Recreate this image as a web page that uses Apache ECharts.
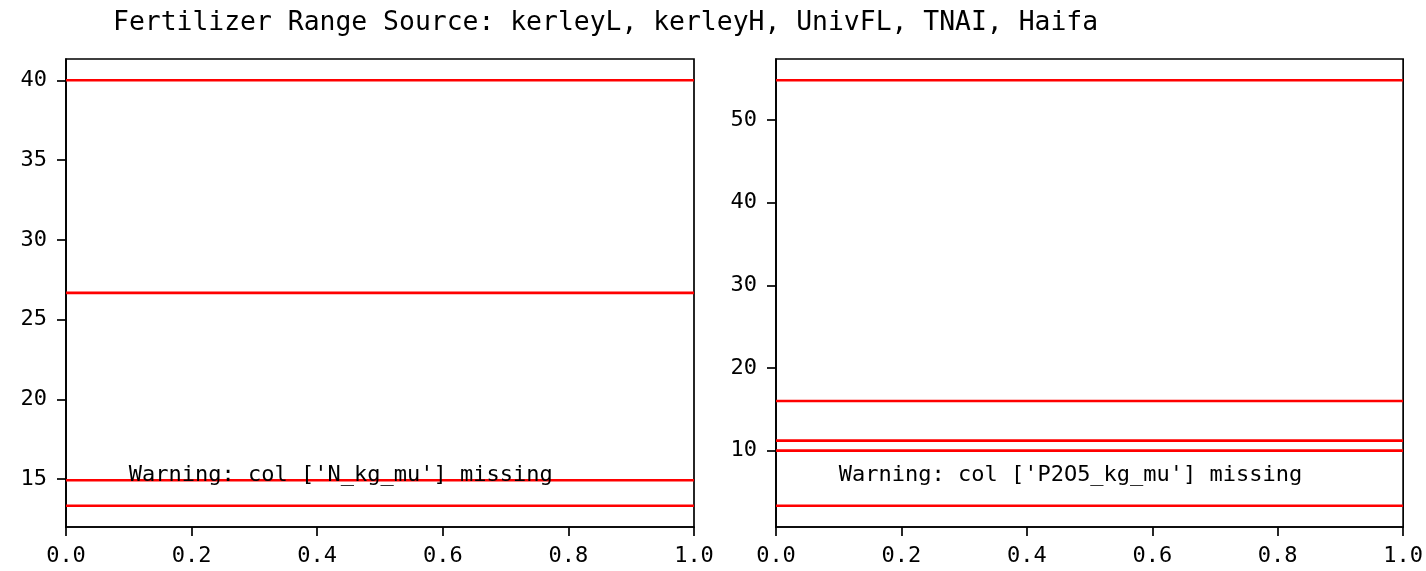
<!DOCTYPE html>
<html>
<head>
<meta charset="utf-8">
<script src="https://cdn.jsdelivr.net/npm/echarts@6/dist/echarts.min.js"></script>
<style>
html,body{margin:0;padding:0;background:#fff;}
#chart{width:1426px;height:571px;}
</style>
</head>
<body>
<div id="chart"></div>
<script>
// ---- data ----
const titleText = "Fertilizer Range Source: kerleyL, kerleyH, UnivFL, TNAI, Haifa";
const nLevels = [40, 26.67, 14.93, 13.33];          // N kg/mu
const pLevels = [54.8, 16, 11.2, 10, 3.33];         // P2O5 kg/mu
const xTickValues = [0, 0.2, 0.4, 0.6, 0.8, 1.0];
const nYTicks = [15, 20, 25, 30, 35, 40];
const pYTicks = [10, 20, 30, 40, 50];
const warnN = "Warning: col ['N_kg_mu'] missing";
const warnP = "Warning: col ['P2O5_kg_mu'] missing";
const warnPos = [0.1, 0.1]; // axes fraction

const FONT = "'DejaVu Sans Mono', 'Liberation Mono', monospace";

function range(levels) {
  const lo = Math.min(...levels), hi = Math.max(...levels);
  const m = 0.05 * (hi - lo);
  return [lo - m, hi + m];
}
const nRange = range(nLevels);
const pRange = range(pLevels);

const chart = echarts.init(document.getElementById('chart'), null, {renderer: 'canvas'});

function xAxisFor(gi) {
  return {
    type: 'value', gridIndex: gi, min: 0, max: 1, interval: 0.2,
    axisLine: {show: true, lineStyle: {color: '#000', width: 1.7}},
    axisTick: {show: true, length: 9, customValues: xTickValues, lineStyle: {color: '#000', width: 1.7}},
    axisLabel: {color: '#000', fontFamily: FONT, fontSize: 22, margin: 18, customValues: xTickValues,
      formatter: v => v.toFixed(1), showMinLabel: true, showMaxLabel: true},
    splitLine: {show: false}
  };
}
function yAxisFor(gi, r, ticks) {
  return {
    type: 'value', gridIndex: gi, min: r[0], max: r[1],
    axisLine: {show: true, lineStyle: {color: '#000', width: 1.7}},
    axisTick: {show: true, length: 9, customValues: ticks, lineStyle: {color: '#000', width: 1.7}},
    axisLabel: {color: '#000', fontFamily: FONT, fontSize: 22, margin: 19, customValues: ticks,
      formatter: v => String(v)},
    splitLine: {show: false}
  };
}
function levelSeries(gi, levels) {
  return levels.map(v => ({
    type: 'line', xAxisIndex: gi, yAxisIndex: gi,
    data: [[0, v], [1, v]], showSymbol: false, symbol: 'none',
    lineStyle: {color: '#ff0000', width: 2.6}, silent: true, z: 3
  }));
}
function warnSeries(gi, r, text) {
  return {
    type: 'scatter', xAxisIndex: gi, yAxisIndex: gi, symbolSize: 0,
    data: [[warnPos[0], r[0] + warnPos[1] * (r[1] - r[0])]],
    silent: true, z: 5,
    itemStyle: {opacity: 1},
    label: {show: true, position: [0, 0], align: 'left', verticalAlign: 'bottom',
      offset: [0, 6], formatter: () => text, color: '#000', opacity: 1,
      textBorderWidth: 0, fontFamily: FONT, fontSize: 22}
  };
}

const option = {
  backgroundColor: '#fff',
  animation: false,
  title: {
    text: titleText, left: 108, top: 5,
    textStyle: {fontFamily: FONT, fontSize: 26.4, fontWeight: 'normal', color: '#000'}
  },
  grid: [
    {left: 66, top: 59, width: 628, height: 468, show: true, borderColor: '#000', borderWidth: 1.7, backgroundColor: '#fff'},
    {left: 776, top: 59, width: 628, height: 468, show: true, borderColor: '#000', borderWidth: 1.7, backgroundColor: '#fff'}
  ],
  xAxis: [xAxisFor(0), xAxisFor(1)],
  yAxis: [yAxisFor(0, nRange, nYTicks), yAxisFor(1, pRange, pYTicks)],
  series: [
    ...levelSeries(0, nLevels),
    ...levelSeries(1, pLevels),
    warnSeries(0, nRange, warnN),
    warnSeries(1, pRange, warnP)
  ]
};
chart.setOption(option);
</script>
</body>
</html>
